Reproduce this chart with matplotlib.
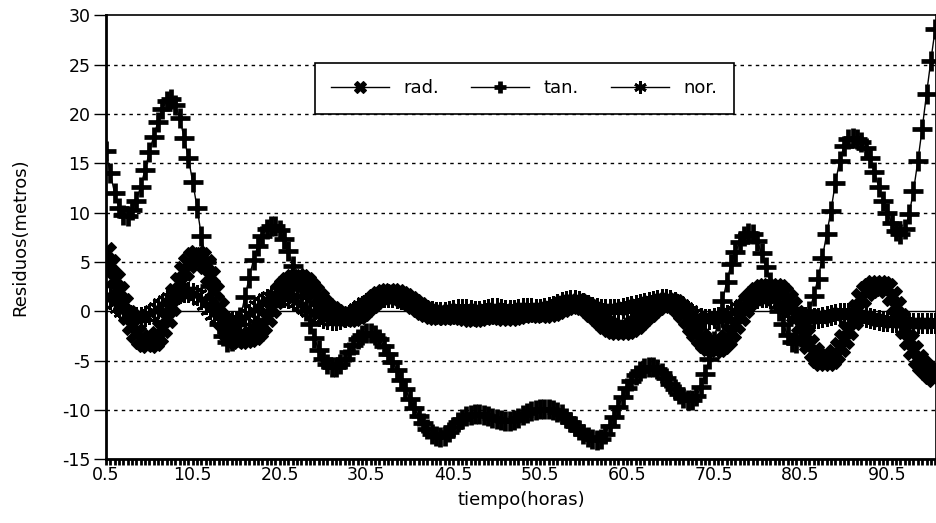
import numpy as np
import matplotlib
matplotlib.use("Agg")
import matplotlib.pyplot as plt
from matplotlib.ticker import FixedLocator

# horas: one sample every half hour, 0.5 .. 96.0
horas = np.arange(0.5, 96.01, 0.5)
xtick_pos = [0.5, 10.5, 20.5, 30.5, 40.5, 50.5, 60.5, 70.5, 80.5, 90.5]
xtick_lbl = ["0.5", "10.5", "20.5", "30.5", "40.5", "50.5", "60.5", "70.5", "80.5", "90.5"]
ytick_pos = [-15, -10, -5, 0, 5, 10, 15, 20, 25, 30]

# residuos radiales (metros)
rad = [
    6.0, 4.8, 3.3, 2.0, 0.8, -0.4, -1.4, -2.2, -2.8, -3.1,
    -3.2, -3.0, -2.5, -1.7, -0.7, 0.5, 1.8, 3.0, 4.1, 4.9,
    5.5, 5.7, 5.5, 4.8, 3.6, 2.0, 0.4, -1.0, -2.0, -2.6,
    -2.8, -2.8, -2.7, -2.6, -2.4, -2.0, -1.4, -0.6, 0.3, 1.2,
    2.0, 2.6, 3.0, 3.3, 3.4, 3.3, 3.0, 2.5, 1.9, 1.3,
    0.7, 0.3, 0.0, -0.3, -0.5, -0.6, -0.6, -0.5, -0.3, 0.0,
    0.4, 0.8, 1.2, 1.5, 1.7, 1.8, 1.8, 1.7, 1.5, 1.3,
    1.0, 0.7, 0.4, 0.1, -0.1, -0.3, -0.4, -0.4, -0.4, -0.3,
    -0.3, -0.3, -0.4, -0.5, -0.6, -0.6, -0.5, -0.4, -0.3, -0.3,
    -0.3, -0.4, -0.5, -0.5, -0.4, -0.3, -0.2, -0.1, -0.1, -0.1,
    -0.2, -0.2, -0.1, 0.0, 0.2, 0.4, 0.6, 0.7, 0.8, 0.8,
    0.6, 0.3, -0.1, -0.5, -0.9, -1.3, -1.6, -1.8, -1.9, -1.9,
    -1.8, -1.6, -1.3, -0.9, -0.5, -0.1, 0.3, 0.6, 0.8, 0.9,
    0.9, 0.7, 0.3, -0.2, -0.8, -1.5, -2.1, -2.7, -3.2, -3.5,
    -3.7, -3.6, -3.3, -2.8, -2.1, -1.3, -0.5, 0.3, 1.0, 1.5,
    1.9, 2.2, 2.3, 2.4, 2.4, 2.2, 1.8, 1.2, 0.5, -0.4,
    -1.4, -2.4, -3.3, -4.1, -4.7, -5.0, -5.0, -4.8, -4.3, -3.6,
    -2.8, -1.9, -0.9, 0.2, 1.3, 2.0, 2.4, 2.7, 2.7, 2.6,
    2.3, 1.5, 0.5, -0.7, -1.8, -2.9, -3.9, -4.8, -5.5, -6.0,
    -6.4, -6.7,
]

# residuos tangenciales (metros)
tan = [
    16.2, 14.0, 12.0, 10.5, 9.7, 9.6, 10.3, 11.2, 12.6, 14.3,
    16.1, 17.7, 19.2, 20.5, 21.3, 21.5, 20.9, 19.6, 17.6, 15.5,
    13.1, 10.5, 7.6, 5.0, 2.6, 0.5, -1.3, -2.5, -3.1, -3.0,
    -2.1, -0.6, 1.4, 3.4, 5.2, 6.6, 7.6, 8.3, 8.6, 8.6,
    8.2, 7.3, 6.1, 4.6, 3.0, 1.5, 0.0, -1.3, -2.7, -3.9,
    -4.8, -5.4, -5.7, -5.7, -5.4, -4.8, -4.1, -3.4, -2.8, -2.4,
    -2.2, -2.2, -2.4, -2.8, -3.5, -4.3, -5.1, -6.0, -7.0, -7.9,
    -8.9, -9.8, -10.6, -11.3, -11.9, -12.4, -12.7, -12.8, -12.6, -12.2,
    -11.7, -11.2, -10.9, -10.6, -10.5, -10.4, -10.4, -10.5, -10.6, -10.8,
    -10.9, -11.0, -11.1, -11.1, -11.0, -10.8, -10.5, -10.3, -10.1, -10.0,
    -9.9, -9.9, -9.9, -10.0, -10.2, -10.4, -10.8, -11.2, -11.6, -12.0,
    -12.4, -12.8, -13.0, -13.1, -13.0, -12.4, -11.6, -10.7, -9.7, -8.7,
    -7.8, -7.1, -6.5, -6.1, -5.8, -5.7, -5.7, -5.9, -6.3, -6.8,
    -7.4, -7.9, -8.4, -8.8, -9.0, -9.0, -8.6, -7.7, -6.4, -4.8,
    -3.0, -1.0, 1.0, 3.0, 4.8, 6.0, 7.0, 7.6, 7.9, 7.8,
    7.1, 5.9, 4.5, 3.0, 1.5, 0.0, -1.3, -2.4, -3.1, -3.2,
    -2.6, -1.5, 0.0, 1.5, 3.3, 5.4, 7.8, 10.2, 13.0, 15.2,
    16.7, 17.4, 17.6, 17.5, 17.1, 16.5, 15.5, 14.1, 12.6, 11.2,
    10.0, 8.9, 8.1, 7.8, 8.3, 9.8, 12.2, 15.2, 18.5, 22.0,
    25.4, 28.6,
]

# residuos normales (metros)
nor = [
    1.6, 1.2, 0.8, 0.4, 0.0, -0.3, -0.5, -0.6, -0.6, -0.5,
    -0.3, 0.0, 0.3, 0.7, 1.0, 1.3, 1.6, 1.8, 1.9, 1.9,
    1.8, 1.6, 1.2, 0.7, 0.2, -0.3, -0.6, -0.9, -1.0, -1.1,
    -1.0, -0.9, -0.6, -0.3, 0.1, 0.5, 0.9, 1.2, 1.4, 1.5,
    1.5, 1.4, 1.3, 1.1, 0.9, 0.6, 0.3, 0.0, -0.3, -0.5,
    -0.7, -0.8, -0.9, -0.9, -0.8, -0.6, -0.4, -0.1, 0.2, 0.5,
    0.8, 1.0, 1.2, 1.3, 1.4, 1.4, 1.4, 1.3, 1.2, 1.0,
    0.8, 0.6, 0.4, 0.2, 0.1, 0.0, -0.1, -0.1, -0.1, 0.0,
    0.1, 0.2, 0.2, 0.2, 0.1, 0.0, 0.0, 0.1, 0.2, 0.3,
    0.3, 0.2, 0.1, 0.1, 0.1, 0.2, 0.3, 0.3, 0.3, 0.2,
    0.2, 0.3, 0.4, 0.5, 0.7, 0.9, 1.0, 1.1, 1.1, 1.0,
    0.8, 0.6, 0.4, 0.3, 0.2, 0.2, 0.2, 0.2, 0.2, 0.3,
    0.4, 0.5, 0.6, 0.7, 0.8, 0.9, 1.0, 1.1, 1.2, 1.2,
    1.1, 0.9, 0.6, 0.3, 0.0, -0.3, -0.5, -0.7, -0.8, -0.8,
    -0.7, -0.6, -0.5, -0.4, -0.2, 0.0, 0.3, 0.6, 0.9, 1.1,
    1.3, 1.4, 1.4, 1.3, 1.1, 0.8, 0.5, 0.2, -0.1, -0.3,
    -0.5, -0.6, -0.7, -0.7, -0.7, -0.6, -0.5, -0.4, -0.3, -0.2,
    -0.2, -0.2, -0.3, -0.4, -0.5, -0.6, -0.7, -0.8, -0.9, -1.0,
    -1.0, -1.1, -1.1, -1.1, -1.1, -1.2, -1.2, -1.2, -1.2, -1.2,
    -1.2, -1.2,
]

plt.rcParams["font.family"] = ["DejaVu Sans"]

fig = plt.figure(figsize=(9.37, 5.23), dpi=100)
ax = fig.add_axes([0.113, 0.122, 0.886, 0.849])

# dashed reference lines, solid zero line
for yv in ytick_pos:
    if yv in (-15, 0, 30):
        continue
    ax.axhline(yv, color="black", lw=1.0, dashes=(2.5, 3), zorder=1)
ax.axhline(0, color="black", lw=1.0, zorder=1)

asterisk = (6, 2, 0)
ax.plot(horas, rad, color="black", lw=1.0, marker="X", ms=14, mfc="black",
        mec="black", mew=0.8, label="rad.", zorder=3)
ax.plot(horas, tan, color="black", lw=1.0, marker="+", ms=15, mew=3.4,
        label="tan.", zorder=4)
ax.plot(horas, nor, color="black", lw=1.0, marker=asterisk, ms=15, mew=2.0,
        label="nor.", zorder=3)

ax.set_xlim(0.5, 96.1)
ax.set_ylim(-15, 30)

ax.xaxis.set_major_locator(FixedLocator(xtick_pos))
ax.set_xticklabels(xtick_lbl)
ax.xaxis.set_minor_locator(FixedLocator(list(horas)))
ax.set_yticks(ytick_pos)
ax.set_yticklabels([str(v) for v in ytick_pos])

ax.tick_params(axis="x", which="both", direction="out", length=4, width=2.0,
               labelsize=12.5, pad=1, colors="black")
ax.tick_params(axis="y", direction="out", length=9, width=1.0, labelsize=12.5, pad=2)

for side in ("left", "bottom"):
    ax.spines[side].set_linewidth(2.0)
for side in ("top", "right"):
    ax.spines[side].set_linewidth(1.2)

ax.set_ylabel("Residuos(metros)", fontsize=13, labelpad=24)
ax.set_xlabel("tiempo(horas)", fontsize=13, labelpad=5)

leg = ax.legend(loc="center", bbox_to_anchor=(0.504, 0.835), ncol=3, fontsize=13,
                numpoints=1, markerscale=0.6, handlelength=3.2, handletextpad=0.8,
                columnspacing=1.8, borderpad=0.9, frameon=True, fancybox=False,
                framealpha=1.0, edgecolor="black")
leg.get_frame().set_linewidth(1.2)
leg.set_zorder(10)

fig.savefig("out.png", dpi=100)
